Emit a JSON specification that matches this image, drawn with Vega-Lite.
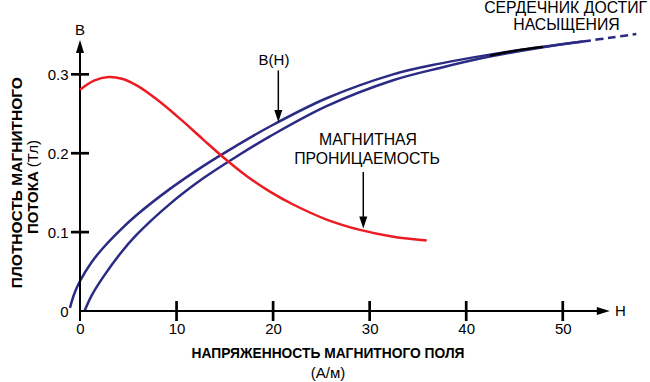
{
  "$schema": "https://vega.github.io/schema/vega-lite/v6.json",
  "width": 560,
  "height": 284,
  "autosize": "none",
  "padding": {"left": 80, "top": 27, "right": 10, "bottom": 71},
  "background": "white",
  "config": {
    "view": {"stroke": null},
    "font": "Liberation Sans",
    "axis": {"domain": false, "ticks": false, "grid": false, "labelFontSize": 15, "labelFont": "Liberation Sans", "labelColor": "#000000", "labelFlush": false, "labelOverlap": false},
    "axisX": {"labelPadding": 10},
    "axisY": {"labelPadding": 12}
  },
  "datasets": {
    "curves": [
      {"s": "up", "h": -1.04, "b": 0.004},
      {"s": "up", "h": -0.6, "b": 0.0216},
      {"s": "up", "h": 0, "b": 0.038},
      {"s": "up", "h": 1.2, "b": 0.0618},
      {"s": "up", "h": 2.41, "b": 0.0802},
      {"s": "up", "h": 4.14, "b": 0.1023},
      {"s": "up", "h": 5.87, "b": 0.1217},
      {"s": "up", "h": 9.32, "b": 0.1548},
      {"s": "up", "h": 12.76, "b": 0.1837},
      {"s": "up", "h": 16.22, "b": 0.2097},
      {"s": "up", "h": 19.67, "b": 0.2339},
      {"s": "up", "h": 25.54, "b": 0.2697},
      {"s": "up", "h": 32.43, "b": 0.3},
      {"s": "up", "h": 37.27, "b": 0.3136},
      {"s": "up", "h": 42.44, "b": 0.325},
      {"s": "up", "h": 47.96, "b": 0.3349},
      {"s": "up", "h": 52.1, "b": 0.3415},
      {"s": "low", "h": 0.47, "b": 0},
      {"s": "low", "h": 1.2, "b": 0.0195},
      {"s": "low", "h": 2.41, "b": 0.0432},
      {"s": "low", "h": 4.14, "b": 0.0723},
      {"s": "low", "h": 5.87, "b": 0.0967},
      {"s": "low", "h": 9.32, "b": 0.1358},
      {"s": "low", "h": 12.76, "b": 0.1682},
      {"s": "low", "h": 16.22, "b": 0.1959},
      {"s": "low", "h": 19.67, "b": 0.2214},
      {"s": "low", "h": 25.54, "b": 0.2597},
      {"s": "low", "h": 32.43, "b": 0.2925},
      {"s": "low", "h": 37.27, "b": 0.3081},
      {"s": "low", "h": 42.44, "b": 0.3225},
      {"s": "low", "h": 47.96, "b": 0.3344},
      {"s": "low", "h": 52.1, "b": 0.3415},
      {"s": "red", "h": 0, "b": 0.2806},
      {"s": "red", "h": 1.45, "b": 0.2921},
      {"s": "red", "h": 2.93, "b": 0.2967},
      {"s": "red", "h": 4.35, "b": 0.2944},
      {"s": "red", "h": 5.87, "b": 0.286},
      {"s": "red", "h": 7.94, "b": 0.2684},
      {"s": "red", "h": 10.35, "b": 0.2438},
      {"s": "red", "h": 12.76, "b": 0.2173},
      {"s": "red", "h": 14.83, "b": 0.1949},
      {"s": "red", "h": 17.25, "b": 0.1712},
      {"s": "red", "h": 19.67, "b": 0.1514},
      {"s": "red", "h": 22.08, "b": 0.135},
      {"s": "red", "h": 25.55, "b": 0.1159},
      {"s": "red", "h": 29.0, "b": 0.1028},
      {"s": "red", "h": 32.45, "b": 0.0942},
      {"s": "red", "h": 35.91, "b": 0.0894},
      {"s": "ov", "h": 42.44, "b": 0.3238},
      {"s": "ov", "h": 45.2, "b": 0.3302},
      {"s": "ov", "h": 47.96, "b": 0.3347},
      {"s": "dash", "h": 52.1, "b": 0.3415},
      {"s": "dash", "h": 54.86, "b": 0.3463},
      {"s": "dash", "h": 57.62, "b": 0.3511}
    ]
  },
  "layer": [
    {
      "data": {"name": "curves"},
      "transform": [{"filter": "datum.s == 'up' || datum.s == 'low'"}],
      "mark": {"type": "line", "color": "#2b2b85", "strokeWidth": 2.5, "interpolate": "catmull-rom"},
      "encoding": {
        "x": {"field": "h", "type": "quantitative", "scale": {"domain": [0, 58], "nice": false, "zero": false}, "axis": {"values": [0, 10, 20, 30, 40, 50], "title": null}},
        "y": {"field": "b", "type": "quantitative", "scale": {"domain": [0, 0.36], "nice": false, "zero": false}, "axis": {"values": [0, 0.1, 0.2, 0.3], "title": null, "labelExpr": "datum.value == 0 ? '0' : format(datum.value, '.1f')"}},
        "detail": {"field": "s"}
      }
    },
    {
      "data": {"values": [{}]},
      "mark": {"type": "rule", "color": "#000000", "strokeWidth": 2},
      "encoding": {
        "x": {"datum": 0, "type": "quantitative"},
        "x2": {"datum": 54.2},
        "y": {"datum": 0, "type": "quantitative"}
      }
    },
    {
      "data": {"values": [{}]},
      "mark": {"type": "rule", "color": "#000000", "strokeWidth": 2},
      "encoding": {
        "x": {"datum": 0, "type": "quantitative"},
        "y": {"datum": -0.0127, "type": "quantitative"},
        "y2": {"datum": 0.335}
      }
    },
    {
      "data": {"values": [{"h": 10}, {"h": 20}, {"h": 30}, {"h": 40}, {"h": 50}]},
      "mark": {"type": "rule", "color": "#000000", "strokeWidth": 2.7},
      "encoding": {
        "x": {"field": "h", "type": "quantitative"},
        "y": {"datum": -0.0127, "type": "quantitative"},
        "y2": {"datum": 0.0127}
      }
    },
    {
      "data": {"values": [{"b": 0.1}, {"b": 0.2}, {"b": 0.3}]},
      "mark": {"type": "rule", "color": "#000000", "strokeWidth": 2.7},
      "encoding": {
        "y": {"field": "b", "type": "quantitative"},
        "x": {"datum": -0.93, "type": "quantitative"},
        "x2": {"datum": 0.93}
      }
    },
    {
      "data": {"values": [{"h": 54.2, "b": 0}]},
      "mark": {"type": "point", "shape": "M1,0L-1,-0.62L-1,0.62Z", "size": 169, "filled": true, "color": "#000000", "opacity": 1, "strokeWidth": 0},
      "encoding": {"x": {"field": "h", "type": "quantitative"}, "y": {"field": "b", "type": "quantitative"}}
    },
    {
      "data": {"values": [{"h": 0, "b": 0.3354}]},
      "mark": {"type": "point", "shape": "M0,-1L-0.62,1L0.62,1Z", "size": 169, "filled": true, "color": "#000000", "opacity": 1, "strokeWidth": 0},
      "encoding": {"x": {"field": "h", "type": "quantitative"}, "y": {"field": "b", "type": "quantitative"}}
    },
    {
      "data": {"name": "curves"},
      "transform": [{"filter": "datum.s == 'ov'"}],
      "mark": {"type": "line", "color": "#000000", "strokeWidth": 2.2, "interpolate": "catmull-rom"},
      "encoding": {"x": {"field": "h", "type": "quantitative"}, "y": {"field": "b", "type": "quantitative"}}
    },
    {
      "data": {"name": "curves"},
      "transform": [{"filter": "datum.s == 'dash'"}],
      "mark": {"type": "line", "color": "#2b2b85", "strokeWidth": 2.5, "strokeDash": [8, 4.5], "interpolate": "catmull-rom"},
      "encoding": {"x": {"field": "h", "type": "quantitative"}, "y": {"field": "b", "type": "quantitative"}}
    },
    {
      "data": {"name": "curves"},
      "transform": [{"filter": "datum.s == 'red'"}],
      "mark": {"type": "line", "color": "#ed1c24", "strokeWidth": 2.5, "interpolate": "catmull-rom"},
      "encoding": {"x": {"field": "h", "type": "quantitative"}, "y": {"field": "b", "type": "quantitative"}}
    },
    {
      "data": {"values": [{"h": 20.54, "b": 0.305, "b2": 0.2525}, {"h": 29.34, "b": 0.1763, "b2": 0.116}]},
      "mark": {"type": "rule", "color": "#000000", "strokeWidth": 1.5},
      "encoding": {"x": {"field": "h", "type": "quantitative"}, "y": {"field": "b", "type": "quantitative"}, "y2": {"field": "b2"}}
    },
    {
      "data": {"values": [{"h": 20.54, "b": 0.2472}, {"h": 29.34, "b": 0.1123}]},
      "mark": {"type": "point", "shape": "M0,1L-0.667,-1L0.667,-1Z", "size": 144, "filled": true, "color": "#000000", "opacity": 1, "strokeWidth": 0},
      "encoding": {"x": {"field": "h", "type": "quantitative"}, "y": {"field": "b", "type": "quantitative"}}
    },
    {
      "data": {"values": [
        {"t": "B", "h": 0, "b": 0.3557},
        {"t": "H", "h": 55.98, "b": 0},
        {"t": "B(H)", "h": 20.09, "b": 0.3177},
        {"t": "(А/м)", "h": 25.69, "b": -0.0785}
      ]},
      "mark": {"type": "text", "fontSize": 15, "font": "Liberation Sans", "color": "#000000", "align": "center", "baseline": "middle"},
      "encoding": {"x": {"field": "h", "type": "quantitative"}, "y": {"field": "b", "type": "quantitative"}, "text": {"field": "t"}}
    },
    {
      "data": {"values": [
        {"t": "МАГНИТНАЯ", "h": 29.83, "b": 0.2165},
        {"t": "ПРОНИЦАЕМОСТЬ", "h": 29.73, "b": 0.193},
        {"t": "СЕРДЕЧНИК ДОСТИГ", "h": 50.3, "b": 0.3835},
        {"t": "НАСЫЩЕНИЯ", "h": 50.39, "b": 0.362}
      ]},
      "mark": {"type": "text", "fontSize": 15.8, "font": "Liberation Sans", "color": "#000000", "align": "center", "baseline": "middle"},
      "encoding": {"x": {"field": "h", "type": "quantitative"}, "y": {"field": "b", "type": "quantitative"}, "text": {"field": "t"}}
    },
    {
      "data": {"values": [{"t": "НАПРЯЖЕННОСТЬ МАГНИТНОГО ПОЛЯ", "h": 25.69, "b": -0.0544}]},
      "mark": {"type": "text", "fontSize": 13.8, "fontWeight": "bold", "font": "Liberation Sans", "color": "#000000", "align": "center", "baseline": "middle"},
      "encoding": {"x": {"field": "h", "type": "quantitative"}, "y": {"field": "b", "type": "quantitative"}, "text": {"field": "t"}}
    },
    {
      "data": {"values": [{"t": "ПЛОТНОСТЬ МАГНИТНОГО", "h": -6.525, "b": 0.1627}]},
      "mark": {"type": "text", "fontSize": 15.5, "fontWeight": "bold", "font": "Liberation Sans", "color": "#000000", "align": "center", "baseline": "middle", "angle": 270},
      "encoding": {"x": {"field": "h", "type": "quantitative"}, "y": {"field": "b", "type": "quantitative"}, "text": {"field": "t"}}
    },
    {
      "data": {"values": [{"t": "ПОТОКА", "h": -4.87, "b": 0.1772}]},
      "mark": {"type": "text", "fontSize": 15, "fontWeight": "bold", "font": "Liberation Sans", "color": "#000000", "align": "right", "baseline": "middle", "angle": 270},
      "encoding": {"x": {"field": "h", "type": "quantitative"}, "y": {"field": "b", "type": "quantitative"}, "text": {"field": "t"}}
    },
    {
      "data": {"values": [{"t": "(Тл)", "h": -4.87, "b": 0.1823}]},
      "mark": {"type": "text", "fontSize": 15, "font": "Liberation Sans", "color": "#000000", "align": "left", "baseline": "middle", "angle": 270},
      "encoding": {"x": {"field": "h", "type": "quantitative"}, "y": {"field": "b", "type": "quantitative"}, "text": {"field": "t"}}
    }
  ]
}
